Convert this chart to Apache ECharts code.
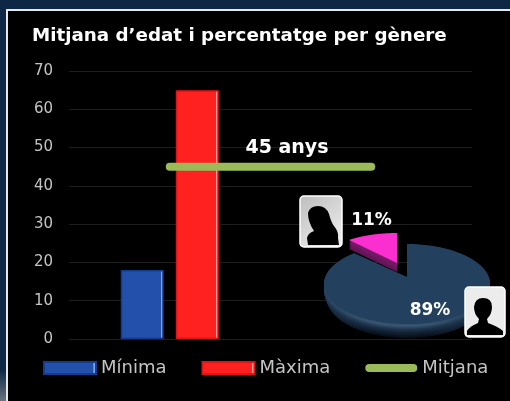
<!DOCTYPE html>
<html><head><meta charset="utf-8">
<style>html,body{margin:0;padding:0;background:#0e2745}#c{width:510px;height:401px}</style>
<script src="https://cdn.jsdelivr.net/npm/echarts@6/dist/echarts.min.js"></script></head>
<body><div id="c"></div>
<script>
const titleText = 'Mitjana d’edat i percentatge per gènere';
const categories = ['A', 'B'];
const minima = [18, null];
const maxima = [65, null];
const mitjana = [45, 45];
const mitjanaLabel = '45 anys';
const genderShares = [89, 11];
const genderLabels = ['89%', '11%'];
const font = '"DejaVu Sans"';

function barFill(base, hi) {
  return {type:'linear',x:0,y:0,x2:1,y2:0,colorStops:[
    {offset:0,color:base},{offset:0.925,color:base},{offset:0.94,color:hi},{offset:0.97,color:hi},{offset:0.985,color:base},{offset:1,color:base}]};
}
function lerp(a,b,t){return a.map((v,i)=>v+(b[i]-v)*t);}
function rgb(c){return 'rgb('+c.map(Math.round).join(',')+')';}
function wedge(tx,ty,cx,cy,rx,ry,a0,a1){
  const pts=[[tx,ty]],n=80;
  for(let i=0;i<=n;i++){const a=a0+(a1-a0)*i/n;pts.push([cx+rx*Math.sin(a),cy-ry*Math.cos(a)]);}
  return pts;
}
function rimFill(c){
  const edge=rgb(lerp(c,[30,56,84],0.6));
  return {type:'linear',x:0,y:0,x2:1,y2:0,colorStops:[
    {offset:0,color:edge},{offset:0.3,color:rgb(c)},{offset:0.62,color:rgb(c)},{offset:0.9,color:edge},{offset:1,color:edge}]};
}
const femalePath='M308 245 L307 238 Q308 233 314 231 Q308 222 308 213 Q310 206 318 206 Q326 206 329 214 Q331 222 334 226 Q339 232 338 238 L339 245 Z';
const malePath='M467 335 L467 331 Q470 326 478 323 L479 319 Q474 314 474 307 Q475 298 483 298 Q492 298 492 307 Q492 314 487 319 L488 323 Q497 326 503 331 L503 335 Z';
function avatar(x,y,w,h,path,fill,px,py,pw,ph){
  return [
    {type:'rect',shape:{x:x,y:y,width:w,height:h,r:4},style:{fill:fill,stroke:'#fff',lineWidth:1.5}},
    {type:'path',shape:{pathData:path,layout:'cover',x:px,y:py,width:pw,height:ph},style:{fill:'#000'}}
  ];
}
const total = genderShares.reduce((a,b)=>a+b,0);
function pieItem(params){
  const i=params.dataIndex, kids=[];
  const before=genderShares.slice(0,i).reduce((a,b)=>a+b,0);
  const a0=before/total*2*Math.PI, a1=(before+genderShares[i])/total*2*Math.PI;
  if(i===0){
    const stops=[
      {cy:298,rx:80,ry:40,c:[6,14,24]},
      {cy:294,rx:82,ry:40,c:[16,30,46]},
      {cy:290,rx:83,ry:40,c:[30,52,76]},
      {cy:286,rx:83,ry:40,c:[60,88,116]},
      {cy:284,rx:83,ry:40,c:[44,74,104]}
    ];
    for(let s=0;s<stops.length-1;s++){
      const A=stops[s],B=stops[s+1],N=5;
      for(let k=0;k<N;k++){
        const t=k/N;
        const cy=A.cy+(B.cy-A.cy)*t, rx=A.rx+(B.rx-A.rx)*t, ry=A.ry+(B.ry-A.ry)*t;
        kids.push({type:'polygon',shape:{points:wedge(407,277+(cy-284),407,cy,rx,ry,a0,a1)},
          style:{fill:rimFill(lerp(A.c,B.c,t))}});
      }
    }
    kids.push({type:'polygon',shape:{points:wedge(407,277,407,284,83,40,a0,a1)},style:{fill:'#23405f'}});
    kids.push({type:'text',style:{text:genderLabels[i],x:430,y:311,align:'center',verticalAlign:'middle',fill:'#fff',font:'bold 17px '+font}});
    kids.push(...avatar(465,287,40,50,malePath,'#ececec',467,298,36,37));
  } else {
    for(let k=9;k>0;k--){
      kids.push({type:'polygon',shape:{points:wedge(397,263+k,397,263+k,75,30,a0,a1)},style:{fill:rgb(lerp([96,20,84],[125,28,108],1-k/9))}});
    }
    kids.push({type:'polygon',shape:{points:wedge(397,263,397,263,75,30,a0,a1)},style:{fill:'#fb2fd0'}});
    kids.push({type:'text',style:{text:genderLabels[i],x:371.5,y:220.5,align:'center',verticalAlign:'middle',fill:'#fff',font:'bold 17px '+font}});
    kids.push(...avatar(300,196,42,51,femalePath,{type:'linear',x:0,y:0,x2:1,y2:1,colorStops:[{offset:0,color:'#bdbdbd'},{offset:1,color:'#f2f2f2'}]},307,206,32,39));
  }
  return {type:'group',children:kids};
}

const chart=echarts.init(document.getElementById('c'),null,{renderer:'canvas'});
chart.setOption({
  animation:false,
  backgroundColor:'#0e2745',
  title:{text:titleText,left:32,top:27,padding:0,textStyle:{color:'#fff',fontFamily:font,fontWeight:'bold',fontSize:18.3}},
  grid:{left:69,right:38,top:71,bottom:62},
  legend:{
    data:[{name:'Mínima',icon:'rect'},{name:'Màxima',icon:'rect'},
      {name:'Mitjana',icon:'path://M0 0 L0.01 0 L0 0 Z M0 12 L0.01 12 L0 12 Z M4 2 L48 2 A4 4 0 0 1 48 10 L4 10 A4 4 0 0 1 4 2 Z'}],
    left:43,top:359,padding:0,itemWidth:52,itemHeight:12,itemGap:35,
    textStyle:{color:'#c4c4c4',fontFamily:font,fontSize:18}
  },
  xAxis:{type:'category',data:categories,axisLine:{show:false},axisTick:{show:false},axisLabel:{show:false},splitLine:{show:false}},
  yAxis:{type:'value',min:0,max:70,interval:10,axisLine:{show:false},axisTick:{show:false},
    axisLabel:{color:'#c4c4c4',fontFamily:font,fontSize:15,margin:16,padding:[4,0,0,0]},
    splitLine:{lineStyle:{color:'#1e1e1e',width:1}}},
  series:[
    {name:'Mínima',type:'bar',data:minima,barWidth:43,barGap:'28%',
      itemStyle:{color:barFill('#2350ab','#7ba4e6'),borderColor:'#143c8e',borderWidth:1.5}},
    {name:'Màxima',type:'bar',data:maxima,barWidth:43,
      itemStyle:{color:barFill('#ff2020','#ff9a9a'),borderColor:'#e01414',borderWidth:1.5}},
    {name:'Mitjana',type:'line',data:mitjana,symbol:'none',z:5,
      lineStyle:{color:'#9bbb59',width:8,cap:'round'},itemStyle:{color:'#9bbb59'}},
    {name:'Gènere',type:'custom',coordinateSystem:'none',data:genderShares,renderItem:pieItem,z:10,silent:true}
  ],
  graphic:[
    {type:'rect',z:-11,silent:true,shape:{x:0,y:370,width:6,height:31},style:{fill:{type:'linear',x:0,y:0,x2:0,y2:1,colorStops:[{offset:0,color:'#0e2745'},{offset:1,color:'#6a7380'}]}}},
    {type:'rect',z:-10,silent:true,shape:{x:7,y:10,width:520,height:400},style:{fill:'#000',stroke:'#e8e8e8',lineWidth:2}},
    {type:'text',z:12,style:{text:mitjanaLabel,x:287,y:148,align:'center',verticalAlign:'middle',fill:'#fff',font:'bold 19px '+font}}
  ]
});
</script></body></html>
